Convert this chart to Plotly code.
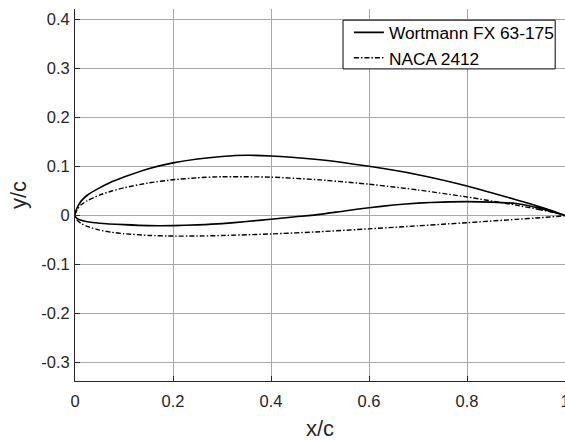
import plotly.graph_objects as go

# Wortmann FX 63-175, upper surface TE->LE then lower LE->TE
fx_upper_x = [1.0, 0.95, 0.9, 0.85, 0.8, 0.7, 0.6, 0.5, 0.4, 0.35, 0.3, 0.25, 0.2, 0.15, 0.1, 0.07, 0.05, 0.025, 0.0125, 0.005, 0.0015, 0.0]
fx_upper_y = [0.0, 0.017, 0.032, 0.046, 0.060, 0.083, 0.100, 0.1135, 0.121, 0.1225, 0.120, 0.115, 0.107, 0.095, 0.078, 0.066, 0.056, 0.041, 0.029, 0.017, 0.008, 0.0]
fx_lower_x = [0.0015, 0.005, 0.0125, 0.025, 0.05, 0.1, 0.15, 0.2, 0.25, 0.3, 0.35, 0.4, 0.45, 0.5, 0.55, 0.6, 0.65, 0.7, 0.75, 0.8, 0.85, 0.9, 0.95, 1.0]
fx_lower_y = [-0.004, -0.007, -0.010, -0.013, -0.016, -0.019, -0.021, -0.021, -0.0195, -0.017, -0.0125, -0.008, -0.003, 0.002, 0.009, 0.0155, 0.021, 0.025, 0.027, 0.028, 0.027, 0.024, 0.014, 0.0]

# NACA 2412
naca_upper_x = [1.0, 0.95, 0.9, 0.8, 0.7, 0.6, 0.5, 0.4, 0.3, 0.25, 0.2, 0.15, 0.1, 0.075, 0.05, 0.025, 0.0125, 0.005, 0.0]
naca_upper_y = [0.0, 0.0114, 0.0208, 0.0375, 0.0518, 0.0636, 0.0724, 0.0780, 0.0788, 0.0767, 0.0726, 0.0661, 0.0563, 0.0496, 0.0413, 0.0299, 0.0215, 0.0130, 0.0]
naca_lower_x = [0.005, 0.0125, 0.025, 0.05, 0.075, 0.1, 0.15, 0.2, 0.25, 0.3, 0.4, 0.5, 0.6, 0.7, 0.8, 0.9, 0.95, 1.0]
naca_lower_y = [-0.0105, -0.0165, -0.0227, -0.0301, -0.0346, -0.0375, -0.0410, -0.0423, -0.0422, -0.0412, -0.0380, -0.0334, -0.0276, -0.0214, -0.0150, -0.0082, -0.0048, 0.0]

x_ticks = [0, 0.2, 0.4, 0.6, 0.8, 1]
x_ticktext = ["0", "0.2", "0.4", "0.6", "0.8", "1"]
y_ticks = [-0.3, -0.2, -0.1, 0, 0.1, 0.2, 0.3, 0.4]
y_ticktext = ["-0.3", "-0.2", "-0.1", "0", "0.1", "0.2", "0.3", "0.4"]

FONT = "Liberation Sans, Arial, sans-serif"
DARK = "#262626"
GRID = "#a8a8a8"

fig = go.Figure()
fig.add_trace(go.Scatter(x=fx_upper_x + fx_lower_x, y=fx_upper_y + fx_lower_y, mode="lines",
                         name="Wortmann FX 63-175", line=dict(color="black", width=1.6, shape="spline", smoothing=0.5)))
fig.add_trace(go.Scatter(x=naca_upper_x + naca_lower_x, y=naca_upper_y + naca_lower_y, mode="lines",
                         name="NACA 2412", line=dict(color="black", width=1.4, dash="5px,2px,1.5px,2px", shape="spline", smoothing=0.5)))

# legend frame
fig.add_shape(type="rect", xref="paper", yref="paper", x0=0.547, x1=0.980, y0=0.839, y1=0.970,
              line=dict(color="black", width=1), fillcolor="white", layer="above")

fig.update_layout(
    width=565, height=441,
    margin=dict(l=75, r=0, t=9, b=60, autoexpand=False),
    paper_bgcolor="white", plot_bgcolor="white",
    font=dict(family=FONT, color=DARK, size=16.5),
    showlegend=True,
    legend=dict(x=0.559, y=0.985, xanchor="left", yanchor="top",
                bgcolor="rgba(0,0,0,0)", borderwidth=0,
                font=dict(size=17.3, color="black"), tracegroupgap=0,
                itemwidth=30),
    xaxis=dict(range=[0, 1], tickvals=x_ticks, ticktext=x_ticktext,
               showline=True, linecolor=DARK, linewidth=1, mirror=False,
               ticks="inside", ticklen=5, tickcolor=DARK,
               showgrid=True, gridcolor=GRID, gridwidth=1, zeroline=False,
               title=dict(text="x/c", font=dict(size=22), standoff=12),
               ticklabelstandoff=5, ticklabeloverflow="allow", automargin=False),
    yaxis=dict(range=[-0.338, 0.421], tickvals=y_ticks, ticktext=y_ticktext,
               showline=True, linecolor=DARK, linewidth=1, mirror=False,
               ticks="inside", ticklen=5, tickcolor=DARK,
               showgrid=True, gridcolor=GRID, gridwidth=1, zeroline=False,
               title=dict(text="y/c", font=dict(size=22), standoff=8),
               ticklabelstandoff=1, automargin=False),
)

fig.write_html("out.html")
